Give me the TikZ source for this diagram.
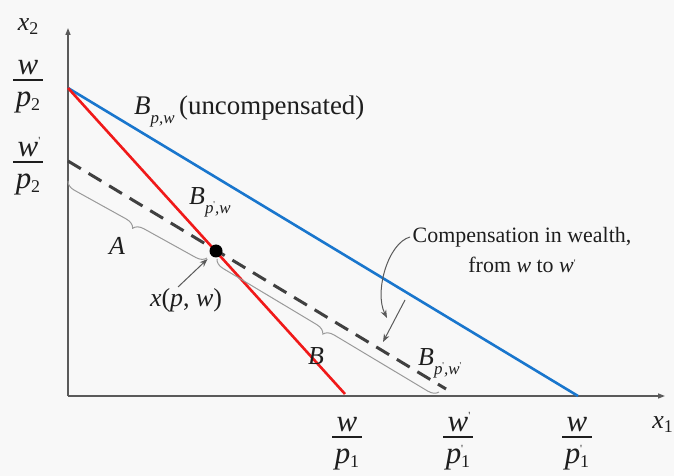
\documentclass[tikz,border=0pt]{standalone}
\usepackage{fontspec}
\setmainfont{Liberation Serif}
\usetikzlibrary{arrows.meta,decorations.pathreplacing}
\definecolor{bgc}{HTML}{F8F8F8}
\definecolor{bluel}{RGB}{25,118,205}
\definecolor{redl}{RGB}{240,25,25}
\definecolor{dashc}{HTML}{404040}
\definecolor{axc}{HTML}{5A5A5A}
\definecolor{brc}{HTML}{9A9A9A}
\definecolor{txt}{HTML}{1E1E1E}
\newcommand{\sbx}[1]{\raisebox{-9bp}{\fontsize{17}{17}\selectfont\itshape #1}}
\newcommand{\tks}{\raisebox{6bp}{\fontsize{9}{9}\selectfont\upshape\textquotesingle}}
\newcommand{\tkb}{\rlap{\raisebox{12bp}{\fontsize{11}{11}\selectfont\upshape\textquotesingle}}}
\newcommand{\dsub}[1]{\raisebox{-4bp}{\fontsize{18}{18}\selectfont\upshape #1}}
\newcommand{\dsubp}[1]{\rlap{\raisebox{11bp}{\fontsize{11}{11}\selectfont\upshape\textquotesingle}}\raisebox{-4bp}{\fontsize{18}{18}\selectfont\upshape #1}}
\newcommand{\fr}[2]{\rule{0pt}{20bp}#1\\[-21bp]\rule{30bp}{1.6bp}\\[-2bp]#2\rule[-7bp]{0pt}{0pt}}
\begin{document}
\begin{tikzpicture}[x=1bp,y=-1bp,
  axis/.style={draw=axc,line width=1.4bp,-{Triangle[length=7bp,width=5bp]}},
  budget/.style={line width=2.6bp},
  dashline/.style={draw=dashc,line width=3bp,dash pattern=on 15bp off 9bp},
  bracestyle/.style={draw=brc,line width=1bp,decorate,decoration={brace,mirror,amplitude=10bp}},
  arr/.style={draw=axc,line width=1bp,-{Stealth[length=8bp,width=6bp]}},
  lab/.style={text=txt,inner sep=0pt,font=\fontsize{26}{28}\selectfont},
  frac/.style={text=txt,align=center,inner sep=0pt,font=\fontsize{31}{28}\selectfont},
  dot/.style={circle,fill=black,inner sep=0pt,minimum size=13bp}]
\fill[bgc] (0,0) rectangle (674,476);
\useasboundingbox (0,0) rectangle (674,476);
% axes
\coordinate (O) at (68,396);
\coordinate (ytop) at (68,28);
\coordinate (xend) at (665,396);
\draw[axis] (O) -- (ytop);
\draw[axis] (O) -- (xend);
% budget lines
\coordinate (Y1) at (68,88);
\coordinate (X1) at (578,396);
\coordinate (Xr) at (345,394);
\coordinate (Y2) at (68,161);
\coordinate (D2) at (446,389);
\draw[budget,bluel] (Y1) -- (X1);
\draw[budget,redl] (Y1) -- (Xr);
\draw[dashline] (Y2) -- (D2);
\node[dot] (P) at (216,251) {};
% braces
\coordinate (A1) at (68,181);
\coordinate (A2) at (207,258);
\coordinate (B1) at (217,259);
\coordinate (B2) at (439,392);
\draw[bracestyle] (A1) -- (A2);
\draw[bracestyle] (B1) -- (B2);
\node[lab,font=\fontsize{26}{28}\selectfont\itshape] (lA) at (117,246) {A};
\node[lab,font=\fontsize{26}{28}\selectfont\itshape] (lB) at (316,356) {B};
% point label
\node[lab] (lx) at (186,300) {\textit{x}(\textit{p}, \textit{w})};
\coordinate (xs) at (178,287);
\draw[arr,shorten >=5bp] (xs) -- (P);
% line labels
\node[lab,anchor=base west,font=\fontsize{27}{29}\selectfont] (lBpw) at (134,115) {\textit{B}\sbx{p,w}\,(uncompensated)};
\node[lab,anchor=base west] (lBpp) at (189,205) {\textit{B}\sbx{p\tks,w}};
\node[lab,anchor=base west] (lBppw) at (418,365) {\textit{B}\sbx{p\tks,w\tks}};
% compensation
\node[text=txt,align=center,inner sep=0pt,font=\fontsize{22}{30}\selectfont] (comp) at (522,250)
  {Compensation in wealth,\\ from \textit{w} to \textit{w}\raisebox{6bp}{\fontsize{10}{10}\selectfont\textquotesingle}};
\coordinate (c1) at (410,237);
\coordinate (c2) at (387,318);
\draw[arr] (c1) .. controls (388,243) and (374,292) .. (c2);
\coordinate (s1) at (405,300);
\coordinate (s2) at (383,342);
\draw[arr] (s1) -- (s2);
% axis labels
\node[lab] (x2) at (28,27) {\textit{x}\dsub{2}};
\node[lab,anchor=east] (x1) at (673,425) {\textit{x}\dsub{1}};
\node[frac] (f1) at (28,84) {\fr{\textit{w}}{\textit{p}\dsub{2}}};
\node[frac] (f2) at (28,166) {\fr{\textit{w}\tkb}{\textit{p}\dsub{2}}};
\node[frac] (f3) at (347,441) {\fr{\textit{w}}{\textit{p}\dsub{1}}};
\node[frac] (f4) at (458,441) {\fr{\textit{w}\tkb}{\textit{p}\dsubp{1}}};
\node[frac] (f5) at (577,441) {\fr{\textit{w}}{\textit{p}\dsubp{1}}};
\end{tikzpicture}
\end{document}
